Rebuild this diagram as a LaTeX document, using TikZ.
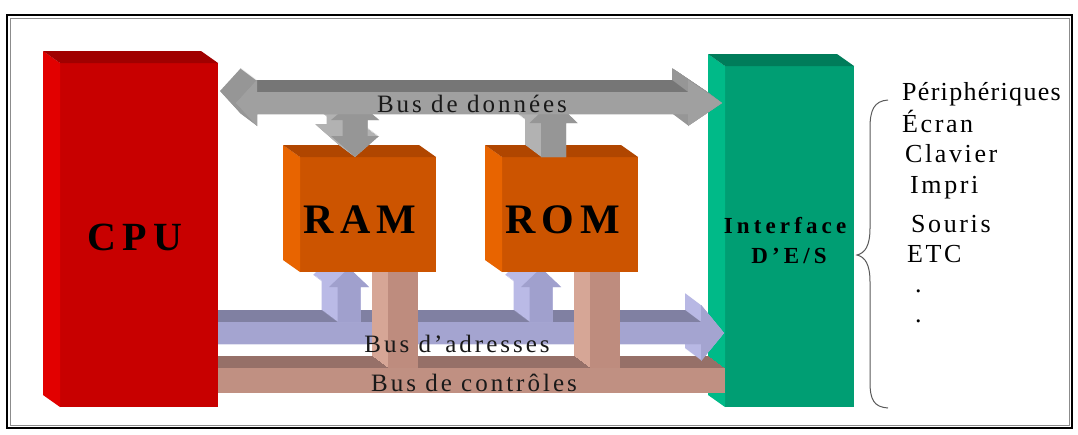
\documentclass[tikz,border=0pt]{standalone}
\usepackage{fontspec}
\setmainfont{Liberation Serif}
\newfontfamily\boxfont[LetterSpace=15]{Liberation Serif}
\newfontfamily\iofont[LetterSpace=18]{Liberation Serif}
\newfontfamily\busfont[LetterSpace=12]{Liberation Serif}
\newfontfamily\listfont[LetterSpace=10]{Liberation Serif}
\newfontfamily\perifont[LetterSpace=5]{Liberation Serif}
\definecolor{cpuF}{RGB}{200,0,0}
\definecolor{cpuS}{RGB}{226,0,0}
\definecolor{cpuT}{RGB}{160,0,0}
\definecolor{memF}{RGB}{204,84,0}
\definecolor{memS}{RGB}{232,100,0}
\definecolor{memT}{RGB}{176,70,0}
\definecolor{ioF}{RGB}{0,158,115}
\definecolor{ioS}{RGB}{0,186,136}
\definecolor{ioT}{RGB}{0,124,90}
\definecolor{datF}{RGB}{160,160,160}
\definecolor{datH}{RGB}{150,150,150}
\definecolor{datD}{RGB}{118,118,118}
\definecolor{datVF}{RGB}{150,150,150}
\definecolor{datVS}{RGB}{178,178,178}
\definecolor{adrF}{RGB}{164,164,208}
\definecolor{adrH}{RGB}{184,184,228}
\definecolor{adrD}{RGB}{128,128,162}
\definecolor{adrVF}{RGB}{160,160,205}
\definecolor{adrVS}{RGB}{186,186,230}
\definecolor{ctlF}{RGB}{192,144,130}
\definecolor{ctlD}{RGB}{150,112,104}
\definecolor{ctlVF}{RGB}{190,140,126}
\definecolor{ctlVS}{RGB}{214,166,150}
\definecolor{bracecol}{RGB}{90,90,90}
\newcommand\solidshape[3]{%
  \foreach \k in {0,...,16}{\fill[#1,shift={(-\k,-0.75*\k)}] #3;}%
  \fill[#2] #3;}
\newcommand\boxfaces[3]{%
  \fill[#2] (#1.north west) -- ++(-17,-12) -- ([shift={(-17,-12)}]#1.south west) -- (#1.south west) -- cycle;
  \fill[#3] (#1.north west) -- ++(-17,-12) -- ([shift={(-17,-12)}]#1.north east) -- (#1.north east) -- cycle;}
\tikzset{
  face/.style={rectangle, inner sep=0pt, outer sep=0pt, draw=none},
  lbl/.style={inner sep=0pt, anchor=base, text=black},
  buslbl/.style={inner sep=0pt, anchor=base, text={black!90}, font=\busfont\fontsize{25}{25}\selectfont},
  listlbl/.style={inner sep=0pt, anchor=base west, text=black, font=\listfont\fontsize{26}{26}\selectfont}
}
\begin{document}
\begin{tikzpicture}[x=1pt,y=-1pt]
\useasboundingbox (0,0) rectangle (1078,434);
\fill[white] (0,0) rectangle (1078,434);
% frame
\draw[black!45, line width=1pt] (10,18) rectangle (1069,425);
\draw[black, line width=2.6pt] (7,15) rectangle (1072,428);
% interface box
\node[face, fill=ioF, minimum width=129pt, minimum height=341pt] (ioif) at (789.5,236.5) {};
\boxfaces{ioif}{ioS}{ioT}
% control bus
\solidshape{ctlD}{ctlF}{(218,368) -- (725,368) -- (725,393) -- (218,393) -- cycle}
% address bus
\solidshape{adrH}{adrF}{(218,322) -- (701,322) -- (701,305) -- (724,333) -- (701,361) -- (701,344) -- (218,344) -- cycle}
\fill[adrD] (202,310) -- (685,310) -- (701,322) -- (218,322) -- cycle;
\fill[adrF] (218,322) -- (701,322) -- (701,305) -- (724,333) -- (701,361) -- (701,344) -- (218,344) -- cycle;
% address branches
\solidshape{adrVS}{adrVF}{(349,268) -- (369,287) -- (360.5,287) -- (360.5,322) -- (337.5,322) -- (337.5,287) -- (329,287) -- cycle}
\solidshape{adrVS}{adrVF}{(541,268) -- (561,287) -- (552.5,287) -- (552.5,322) -- (529.5,322) -- (529.5,287) -- (521,287) -- cycle}
% control branches
\solidshape{ctlVS}{ctlVF}{(388,272) -- (418,272) -- (418,368) -- (388,368) -- cycle}
\solidshape{ctlVS}{ctlVF}{(590,272) -- (620,272) -- (620,368) -- (590,368) -- cycle}
% RAM and ROM boxes
\node[face, fill=memF, minimum width=136pt, minimum height=115pt] (ram) at (368,214.5) {};
\boxfaces{ram}{memS}{memT}
\node[face, fill=memF, minimum width=136pt, minimum height=115pt] (rom) at (570,214.5) {};
\boxfaces{rom}{memS}{memT}
% data branches
\solidshape{datVS}{datVF}{(355,100) -- (379,120) -- (367.5,120) -- (367.5,136) -- (379,136) -- (355,157) -- (331,136) -- (342.5,136) -- (342.5,120) -- (331,120) -- cycle}
\solidshape{datVS}{datVF}{(553.5,100) -- (577.5,123) -- (566,123) -- (566,157) -- (541,157) -- (541,123) -- (529.5,123) -- cycle}
% data bus
\solidshape{datH}{datF}{(236,103) -- (257,80) -- (257,92) -- (688,92) -- (688,80) -- (722,103) -- (688,126) -- (688,114) -- (257,114) -- (257,126) -- cycle}
\fill[datD] (257,80) -- (672,80) -- (688,92) -- (257,92) -- cycle;
\fill[datF] (236,103) -- (257,80) -- (257,92) -- (688,92) -- (688,80) -- (722,103) -- (688,126) -- (688,114) -- (257,114) -- (257,126) -- cycle;
% CPU box
\node[face, fill=cpuF, minimum width=158pt, minimum height=344pt] (cpu) at (139,235) {};
\boxfaces{cpu}{cpuS}{cpuT}
% box labels
\node[lbl, font=\boxfont\bfseries\fontsize{40}{40}\selectfont] (cputxt) at (135,250) {CPU};
\node[lbl, font=\boxfont\bfseries\fontsize{42}{42}\selectfont] (ramtxt) at (360,233) {RAM};
\node[lbl, font=\boxfont\bfseries\fontsize{42}{42}\selectfont] (romtxt) at (563,233) {ROM};
\node[lbl, font=\iofont\bfseries\fontsize{23}{23}\selectfont] (iotxta) at (785,233) {Interface};
\node[lbl, font=\iofont\bfseries\fontsize{23}{23}\selectfont] (iotxtb) at (789,263) {D’E/S};
% bus labels
\node[buslbl] (datlbl) at (472,112) {Bus de données};
\node[buslbl] (adrlbl) at (457,352) {Bus d’adresses};
\node[buslbl] (ctllbl) at (474,391) {Bus de contrôles};
% brace
\draw[bracecol, line width=1pt] (888,100) .. controls (874,101) and (870,110) .. (870,128) -- (870,228) .. controls (870,246) and (865,253) .. (857,255) .. controls (865,257) and (870,264) .. (870,282) -- (870,382) .. controls (870,400) and (874,407) .. (888,408);
% peripherals list
\node[listlbl, font=\perifont\fontsize{26}{26}\selectfont] (peri) at (902,100) {Périphériques};
\node[listlbl] (ecran) at (902,132) {Écran};
\node[listlbl] (clav) at (905,162) {Clavier};
\node[listlbl] (impri) at (910,193) {Impri};
\node[listlbl] (souris) at (911,232) {Souris};
\node[listlbl] (etc) at (907,262) {ETC};
\node[listlbl] (dota) at (915,292) {.};
\node[listlbl] (dotb) at (915,322) {.};
\end{tikzpicture}
\end{document}
